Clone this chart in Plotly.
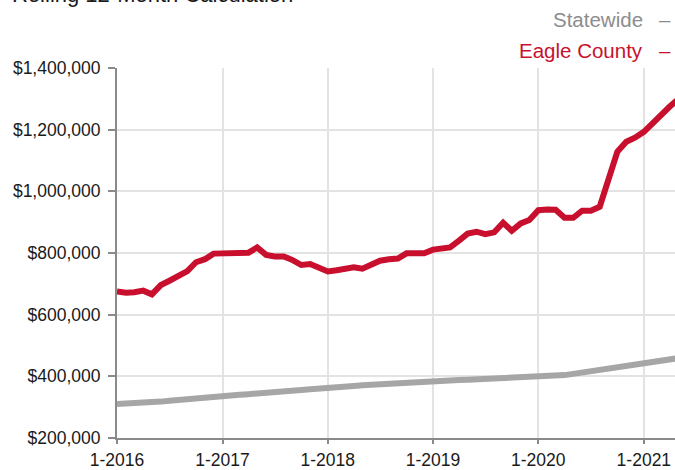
import pandas as pd
import plotly.graph_objects as go

months = pd.date_range("2016-01-01", "2021-05-01", freq="MS")

eagle_county = [
    675000, 671000, 673000, 678000, 666000, 696000, 710000, 725000, 741000, 770000, 780000, 798000,
    799000, 798000, 799000, 801000, 818000, 794000, 789000, 789000, 777000, 761000, 764000, 750000,
    740000, 744000, 747000, 754000, 749000, 764000, 775000, 780000, 782000, 799000, 797000, 799000,
    811000, 813000, 818000, 840000, 863000, 869000, 861000, 867000, 898000, 872000, 896000, 907000,
    939000, 941000, 940000, 914000, 914000, 937000, 937000, 950000, 1037000, 1128000, 1161000, 1174000,
    1193000, 1223000, 1248000, 1275000, 1300000,
]

statewide = [
    310000, 311000, 312000, 314000, 316000, 318000, 321000, 324000, 326000, 328000, 331000, 334000,
    337000, 338000, 340000, 342000, 345000, 348000, 350000, 351000, 353000, 356000, 358000, 361000,
    364000, 365000, 367000, 369000, 371000, 373000, 375000, 377000, 379000, 381000, 383000, 385000,
    386000, 386000, 387000, 388000, 389000, 390000, 391000, 392000, 394000, 396000, 397000, 398000,
    400000, 401000, 402000, 404000, 408000, 412000, 417000, 423000, 428000, 432000, 435000, 438000,
    441000, 444000, 448000, 453000, 459000,
]

x_tick_dates = ["2016-01-01", "2017-01-01", "2018-01-01", "2019-01-01", "2020-01-01", "2021-01-01"]
x_tick_labels = ["1-2016", "1-2017", "1-2018", "1-2019", "1-2020", "1-2021"]
y_tick_values = [200000, 400000, 600000, 800000, 1000000, 1200000, 1400000]
y_tick_labels = ["$200,000", "$400,000", "$600,000", "$800,000", "$1,000,000", "$1,200,000", "$1,400,000"]

title_text = "Rolling 12-Month Calculation"
series_names = ["Statewide", "Eagle County"]

RED = "#C8102E"
GRAY = "#A6A6A6"
LEG_GRAY = "#8c8c8c"
FONT = "Liberation Sans, Arial, sans-serif"

fig = go.Figure()
fig.add_trace(go.Scatter(x=months, y=statewide, mode="lines", name=series_names[0],
                         line=dict(color=GRAY, width=6), showlegend=False, hoverinfo="skip"))
fig.add_trace(go.Scatter(x=months, y=eagle_county, mode="lines", name=series_names[1],
                         line=dict(color=RED, width=6), showlegend=False, hoverinfo="skip"))

fig.update_layout(
    width=675, height=470,
    margin=dict(l=117, r=0, t=68, b=32),
    paper_bgcolor="white", plot_bgcolor="white",
    font=dict(family=FONT, color="#1a1a1a"),
)

fig.update_xaxes(
    type="date",
    range=["2016-01-01", "2021-04-19"],
    tickvals=x_tick_dates, ticktext=x_tick_labels,
    tickfont=dict(size=17.5, color="#1a1a1a"),
    showgrid=True, gridcolor="#e3e3e3", gridwidth=2,
    showline=True, linecolor="#8a8a8a", linewidth=2,
    ticks="outside", ticklen=4, tickcolor="#8a8a8a", tickwidth=1.5,
    ticklabelstandoff=1,
    zeroline=False, automargin=False,
)
fig.update_yaxes(
    range=[200000, 1400000],
    tickvals=y_tick_values, ticktext=y_tick_labels,
    tickfont=dict(size=17.5, color="#1a1a1a"),
    showgrid=True, gridcolor="#e3e3e3", gridwidth=2,
    showline=True, linecolor="#8a8a8a", linewidth=2,
    ticks="outside", ticklen=7, tickcolor="#8a8a8a", tickwidth=1.5,
    ticklabelstandoff=4,
    zeroline=False, automargin=False,
)

fig.add_annotation(text=title_text, xref="paper", yref="paper",
                   x=(10 - 117) / 558, y=(438 + 5.4) / 370,
                   xanchor="left", yanchor="middle", showarrow=False,
                   font=dict(size=22, color="#1a1a1a", family=FONT))

legend_rows = [(series_names[0], LEG_GRAY, 19.4), (series_names[1], RED, 50.0)]
for name, col, ypx in legend_rows:
    fig.add_annotation(text=name, xref="paper", yref="paper",
                       x=(645 - 117) / 558, y=(438 - ypx) / 370,
                       xanchor="right", yanchor="middle", showarrow=False,
                       font=dict(size=20.5, color=col, family=FONT))
    fig.add_annotation(text="\u2013", xref="paper", yref="paper",
                       x=(657 - 117) / 558, y=(438 - ypx) / 370,
                       xanchor="left", yanchor="middle", showarrow=False,
                       font=dict(size=20.5, color=col, family=FONT))

fig.write_html("out.html", config={"displayModeBar": False},
               post_script="document.body.style.margin='0';")
